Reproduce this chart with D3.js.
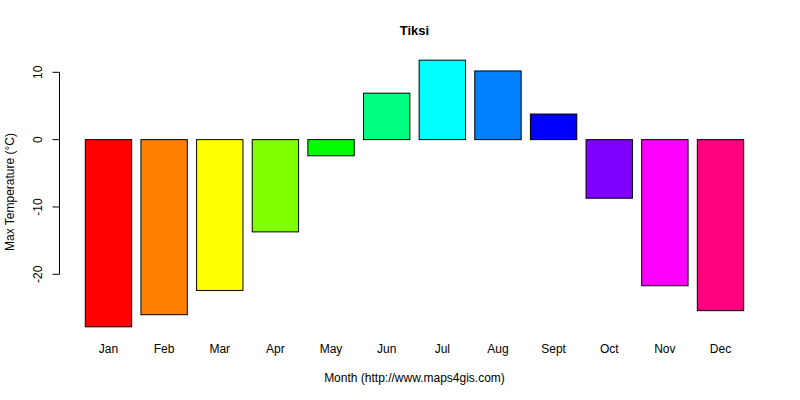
<!DOCTYPE html>
<html>
<head>
<meta charset="utf-8">
<script src="https://cdn.jsdelivr.net/npm/d3@7"></script>
<style>
  body { margin: 0; background: #fff; }
  text { font-family: "Liberation Sans", Arial, sans-serif; }
</style>
</head>
<body>
<svg id="chart" width="800" height="400"></svg>
<script>
const months = ["Jan", "Feb", "Mar", "Apr", "May", "Jun", "Jul", "Aug", "Sept", "Oct", "Nov", "Dec"];
const maxTemp = [-27.8, -26.0, -22.4, -13.7, -2.4, 6.9, 11.8, 10.2, 3.8, -8.7, -21.7, -25.4];
const yTicks = [-20, -10, 0, 10];
// R rainbow(12)
const colors = ["#FF0000", "#FF8000", "#FFFF00", "#80FF00", "#00FF00", "#00FF80",
                "#00FFFF", "#0080FF", "#0000FF", "#8000FF", "#FF00FF", "#FF0080"];

const width = 800, height = 400;
const svg = d3.select("#chart");

const x = d3.scaleBand()
  .domain(months)
  .range([85.3, 743.7])
  .paddingInner(1 / 6)
  .paddingOuter(0);

const y = d3.scaleLinear()
  .domain([-20, 10])
  .range([274.3, 72.3]);

// bars
svg.append("g")
  .selectAll("rect")
  .data(maxTemp)
  .join("rect")
  .attr("x", (d, i) => x(months[i]))
  .attr("y", d => y(Math.max(0, d)))
  .attr("width", x.bandwidth())
  .attr("height", d => Math.abs(y(d) - y(0)))
  .attr("fill", (d, i) => colors[i])
  .attr("stroke", "#000")
  .attr("stroke-width", 1);

// y axis (R style)
const axisX = 59.5;
const yAxis = svg.append("g");
yAxis.append("line")
  .attr("x1", axisX).attr("x2", axisX)
  .attr("y1", y(d3.min(yTicks))).attr("y2", y(d3.max(yTicks)))
  .attr("stroke", "#000");
yAxis.selectAll("line.tick")
  .data(yTicks)
  .join("line")
  .attr("class", "tick")
  .attr("x1", axisX - 7).attr("x2", axisX)
  .attr("y1", d => y(d)).attr("y2", d => y(d))
  .attr("stroke", "#000");
yAxis.selectAll("text")
  .data(yTicks)
  .join("text")
  .attr("transform", d => `translate(42,${y(d)}) rotate(-90)`)
  .attr("text-anchor", "middle")
  .attr("font-size", 12)
  .text(d => d);

// month labels
svg.append("g")
  .selectAll("text")
  .data(months)
  .join("text")
  .attr("x", d => x(d) + x.bandwidth() / 2)
  .attr("y", 353)
  .attr("text-anchor", "middle")
  .attr("font-size", 12)
  .text(d => d);

// titles
svg.append("text")
  .attr("x", 414.5).attr("y", 35)
  .attr("text-anchor", "middle")
  .attr("font-size", 13)
  .attr("font-weight", "bold")
  .text("Tiksi");

svg.append("text")
  .attr("x", 414.5).attr("y", 382)
  .attr("text-anchor", "middle")
  .attr("font-size", 12)
  .text("Month (http://www.maps4gis.com)");

svg.append("text")
  .attr("transform", "translate(14,192) rotate(-90)")
  .attr("text-anchor", "middle")
  .attr("font-size", 12)
  .text("Max Temperature (°C)");
</script>
</body>
</html>
